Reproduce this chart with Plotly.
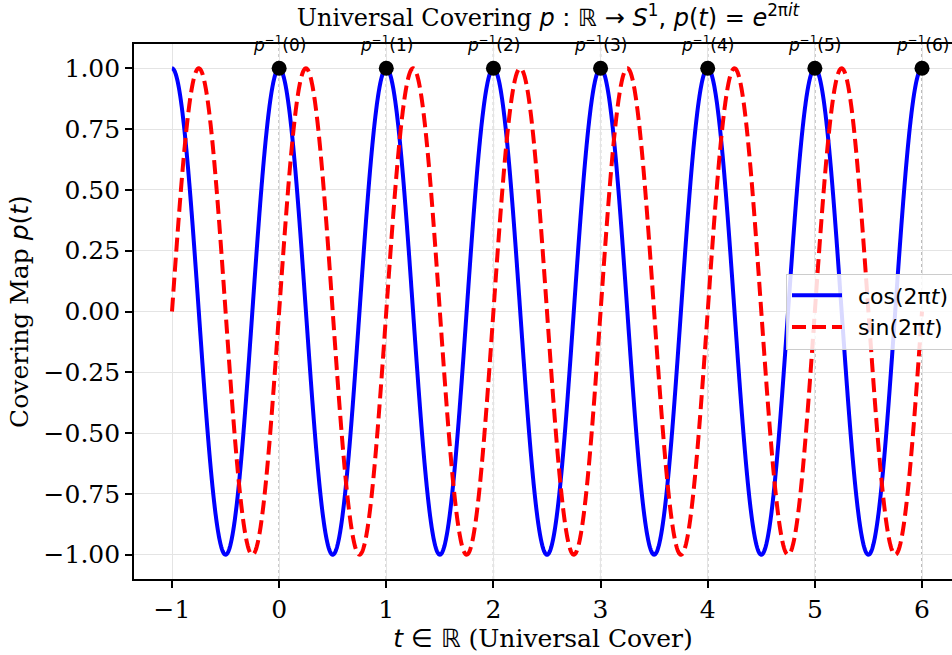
import numpy as np
import plotly.graph_objects as go

# ---- data ----
t_start, t_end = -1.0, 6.0
n_samples = 2000
preimage_t = [0, 1, 2, 3, 4, 5, 6]          # integer preimages of 1
preimage_val = [1, 1, 1, 1, 1, 1, 1]
x_ticks = [-1, 0, 1, 2, 3, 4, 5, 6]
y_ticks = [-1.0, -0.75, -0.5, -0.25, 0.0, 0.25, 0.5, 0.75, 1.0]

t = np.linspace(t_start, t_end, n_samples)
cos_vals = np.cos(2 * np.pi * t)
sin_vals = np.sin(2 * np.pi * t)

SERIF = "DejaVu Serif"
SANS = "DejaVu Sans"
SANS_SPAN = '<span style="font-family:DejaVu Sans">'
PAD = "\u2002"

fig = go.Figure()
fig.add_trace(go.Scatter(
    x=t, y=cos_vals, mode="lines", name=PAD + "cos(2π<i>t</i>)",
    line=dict(color="#0000ff", width=4, simplify=False),
))
fig.add_trace(go.Scatter(
    x=t, y=sin_vals, mode="lines", name=PAD + "sin(2π<i>t</i>)",
    line=dict(color="#ff0000", width=4, dash="14px,6px", simplify=False),
))
fig.add_trace(go.Scatter(
    x=preimage_t, y=preimage_val, mode="markers", showlegend=False,
    marker=dict(color="black", size=15),
))

for k in preimage_t:
    fig.add_shape(type="line", xref="x", yref="paper", x0=k, x1=k, y0=0, y1=1,
                  line=dict(color="#999999", width=1.3, dash="dot"), layer="below")
    fig.add_annotation(x=k, y=1, xref="x", yref="paper", yanchor="middle",
                       text="<i>p</i><sup>−1</sup>(%d)" % k, showarrow=False,
                       font=dict(family=SANS, size=17, color="black"), yshift=0)

title_txt = ('Universal Covering ' + SANS_SPAN + '<i>p</i> : ℝ → <i>S</i><sup>1</sup>, '
             '<i>p</i>(<i>t</i>) = <i>e</i><sup>2π<i>it</i></sup></span>')

fig.update_layout(
    width=952, height=655,
    margin=dict(l=134, r=0, t=44, b=76, autoexpand=False),
    paper_bgcolor="white", plot_bgcolor="white",
    title=dict(text=title_txt, x=548 / 952, xanchor="center", xref="container",
               y=1 - 18 / 655, yanchor="middle",
               font=dict(family=SERIF, size=24, color="black")),
    showlegend=True,
    legend=dict(x=(786 - 134) / 818, y=0.5, xanchor="left", yanchor="middle",
                itemwidth=50,
                bgcolor="rgba(255,255,255,0.85)", bordercolor="#cccccc", borderwidth=1,
                font=dict(family=SANS, size=22, color="black")),
    xaxis=dict(range=[-1.3547, 6.28], tickvals=x_ticks,
               ticktext=[("−%d" % -v) if v < 0 else str(v) for v in x_ticks],
               showgrid=True, gridcolor="#e4e4e4", gridwidth=1.3,
               showline=True, linecolor="black", linewidth=1.6, mirror=True,
               ticks="outside", ticklen=7, tickwidth=1.5, tickcolor="black",
               zeroline=False, automargin=False,
               tickfont=dict(family=SERIF, size=25, color="black"),
               title=dict(text=SANS_SPAN + "<i>t</i> ∈ ℝ</span> (Universal Cover)", standoff=0,
                          font=dict(family=SERIF, size=25, color="black"))),
    yaxis=dict(range=[-1.1, 1.1], tickvals=y_ticks, tickformat=".2f",
               showgrid=True, gridcolor="#e4e4e4", gridwidth=1.3,
               showline=True, linecolor="black", linewidth=1.6, mirror=False,
               ticks="outside", ticklen=7, tickwidth=1.5, tickcolor="black",
               zeroline=False, automargin=False,
               tickfont=dict(family=SERIF, size=25, color="black"),
               title=dict(text="Covering Map " + SANS_SPAN + "<i>p</i>(<i>t</i>)</span>", standoff=8,
                          font=dict(family=SERIF, size=25, color="black"))),
)

fig.write_html("out.html", config={"displayModeBar": False},
               post_script="document.body.style.margin='0';")
